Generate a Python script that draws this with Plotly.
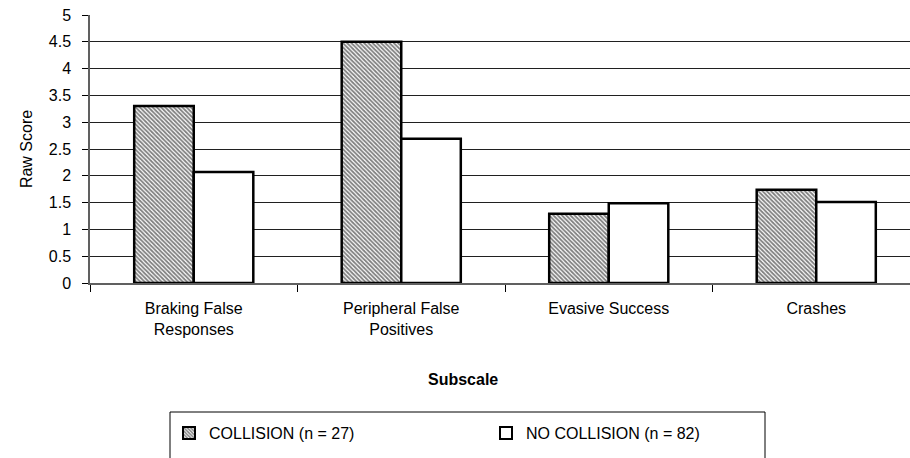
import plotly.graph_objects as go

categories = ["Braking False<br>Responses", "Peripheral False<br>Positives", "Evasive Success", "Crashes"]
collision = [3.30, 4.50, 1.29, 1.74]
no_collision = [2.07, 2.69, 1.49, 1.51]
series_names = ["COLLISION (n = 27)", "NO COLLISION (n = 82)"]
y_ticks = [0, 0.5, 1, 1.5, 2, 2.5, 3, 3.5, 4, 4.5, 5]
y_tick_labels = ["0", "0.5", "1", "1.5", "2", "2.5", "3", "3.5", "4", "4.5", "5"]

W, H = 910, 458
L, R, T, B = 90, 0, 15, 175
FONT = dict(family="Liberation Sans, Arial", size=16, color="black")

def px_x(p):
    return (p - L) / (W - L - R)

def px_y(p):
    return (H - B - p) / (H - T - B)

fig = go.Figure()
fig.add_trace(go.Bar(
    x=categories, y=collision, name=series_names[0],
    marker=dict(color="white",
                pattern=dict(shape="\\", size=3, solidity=0.6, fgcolor="#000", bgcolor="white"),
                line=dict(color="black", width=2.5)),
))
fig.add_trace(go.Bar(
    x=categories, y=no_collision, name=series_names[1],
    marker=dict(color="white", line=dict(color="black", width=2.5)),
))

fig.update_layout(
    width=W, height=H,
    margin=dict(l=L, r=R, t=T, b=B, pad=0),
    paper_bgcolor="white", plot_bgcolor="white",
    font=FONT,
    barmode="group", bargap=0.426, bargroupgap=0,
    showlegend=True,
    legend=dict(orientation="h", x=px_x(169), y=px_y(416), xanchor="left", yanchor="top",
                font=dict(size=16), entrywidth=272, entrywidthmode="pixels",
                bgcolor="rgba(0,0,0,0)", borderwidth=0, itemsizing="constant"),
    xaxis=dict(
        range=[-0.5, -0.5 + (W - L - R) / 207.5],
        showline=True, linecolor="#606060", linewidth=1.5,
        ticks="outside", tickson="boundaries", ticklen=7, tickcolor="black",
        ticklabelstandoff=10,
        tickfont=FONT, showgrid=False,
    ),
    yaxis=dict(
        range=[0, 5], tickvals=y_ticks, ticktext=y_tick_labels,
        showline=True, linecolor="#606060", linewidth=1.5,
        ticks="outside", ticklen=6, tickcolor="black",
        ticklabelstandoff=8, ticklabeloverflow="allow",
        showgrid=True, gridcolor="#202020", gridwidth=1,
        tickfont=FONT,
        title=dict(text="Raw Score", font=FONT, standoff=12),
        zeroline=False,
    ),
    shapes=[dict(type="rect", xref="paper", yref="paper",
                 x0=px_x(170), x1=px_x(765), y0=px_y(480), y1=px_y(412),
                 line=dict(color="black", width=1), fillcolor="rgba(0,0,0,0)", layer="below")],
    annotations=[dict(text="<b>Subscale</b>", xref="paper", yref="paper",
                      x=px_x(463), y=px_y(379), xanchor="center", yanchor="middle",
                      showarrow=False, font=FONT)],
)

fig.write_html("out.html", config={"displayModeBar": False},
               post_script="document.body.style.margin='0';")
